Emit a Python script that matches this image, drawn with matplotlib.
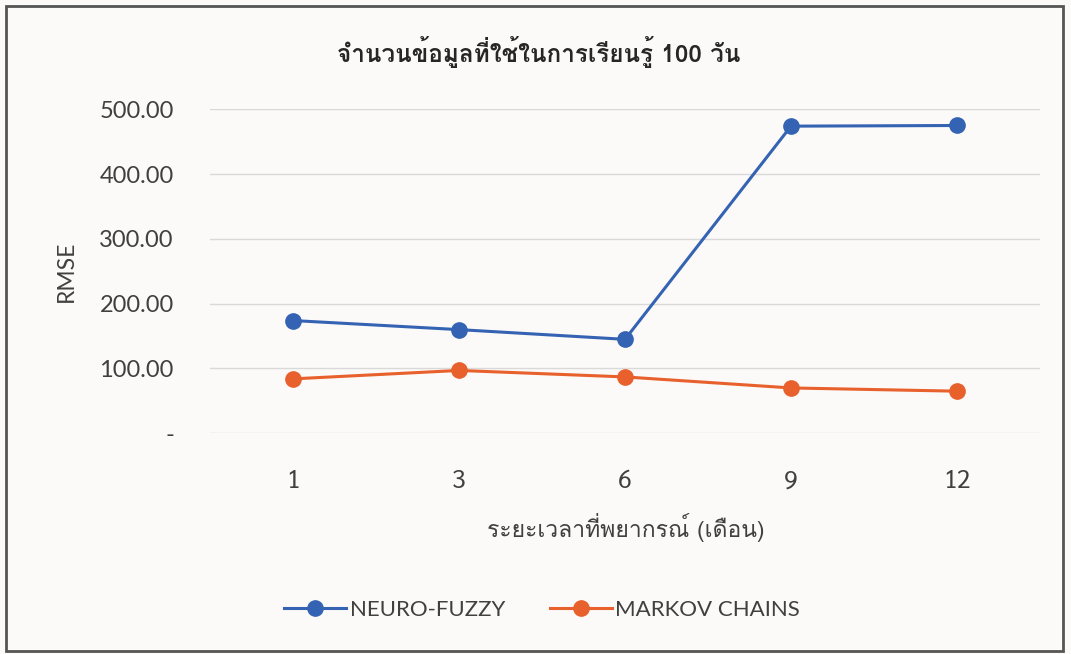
import matplotlib
matplotlib.use("Agg")
import matplotlib.pyplot as plt
from matplotlib.patches import Rectangle
from matplotlib.ticker import FuncFormatter

# forecast horizon (months) and RMSE per method
months = ["1", "3", "6", "9", "12"]
neuro_fuzzy = [174, 160, 145, 474, 475]
markov_chains = [84, 97, 87, 70, 65]

series_names = ["NEURO-FUZZY", "MARKOV CHAINS"]
title = "จำนวนข้อมูลที่ใช้ในการเรียนรู้ 100 วัน"
xlabel = "ระยะเวลาที่พยากรณ์ (เดือน)"
ylabel = "RMSE"

blue = "#3463b3"
orange = "#e8602c"
grid_c = "#d9d9d9"
text_c = "#404040"

# Loma places tone marks above upper vowels without shaping support
thai = ["Loma", "DejaVu Sans"]
digits = ["Sarabun", "DejaVu Sans"]
latin = ["Lato", "DejaVu Sans"]

fig = plt.figure(figsize=(10.71, 6.54), dpi=100, facecolor="#fbfaf8")
ax = fig.add_axes([210 / 1071, 1 - 433.3 / 654, 830 / 1071, 324 / 654])
ax.set_facecolor("none")

x = list(range(len(months)))
ax.plot(x, neuro_fuzzy, color=blue, lw=2.2, marker="o", ms=11,
        label=series_names[0], zorder=3)
ax.plot(x, markov_chains, color=orange, lw=2.2, marker="o", ms=11,
        label=series_names[1], zorder=3)

ax.set_xlim(-0.5, len(months) - 0.5)
ax.set_ylim(0, 500)
ax.set_yticks([0, 100, 200, 300, 400, 500])
ax.yaxis.set_major_formatter(FuncFormatter(lambda v, p: "-" if v == 0 else f"{v:.2f}"))
ax.grid(axis="y", color=grid_c, lw=1)
ax.set_axisbelow(True)
for s in ax.spines.values():
    s.set_visible(False)
ax.tick_params(length=0)
ax.tick_params(axis="y", pad=26, labelsize=17, labelcolor=text_c)
for t in ax.get_yticklabels():
    t.set_fontfamily(latin)

ax.set_xticks(x)
ax.set_xticklabels(months, fontsize=18, color=text_c, fontfamily=digits)
ax.tick_params(axis="x", pad=26)

# titles
fig.text(539 / 1071, 1 - 52 / 654, title, ha="center", va="center",
         fontsize=17.5, fontweight="bold", color="#262626", fontfamily=thai)
fig.text(626 / 1071, 1 - 528 / 654, xlabel, ha="center", va="center",
         fontsize=16.5, color=text_c, fontfamily=thai)
fig.text(66 / 1071, 1 - 271 / 654, ylabel, ha="center", va="center",
         rotation=90, fontsize=16.5, color=text_c, fontfamily=latin)

leg = fig.legend(loc="center", bbox_to_anchor=(542 / 1071, 1 - 610 / 654),
                 ncol=2, frameon=False, handlelength=2.8, columnspacing=2.0,
                 handletextpad=0.15, prop={"family": latin, "size": 16})
for t in leg.get_texts():
    t.set_color(text_c)

# outer frame
fig.patches.append(Rectangle((6 / 1071, 3 / 654), 1057 / 1071, 645 / 654,
                             transform=fig.transFigure, fill=False,
                             edgecolor="#555555", lw=2))

fig.savefig("out.png", dpi=100, facecolor=fig.get_facecolor())
